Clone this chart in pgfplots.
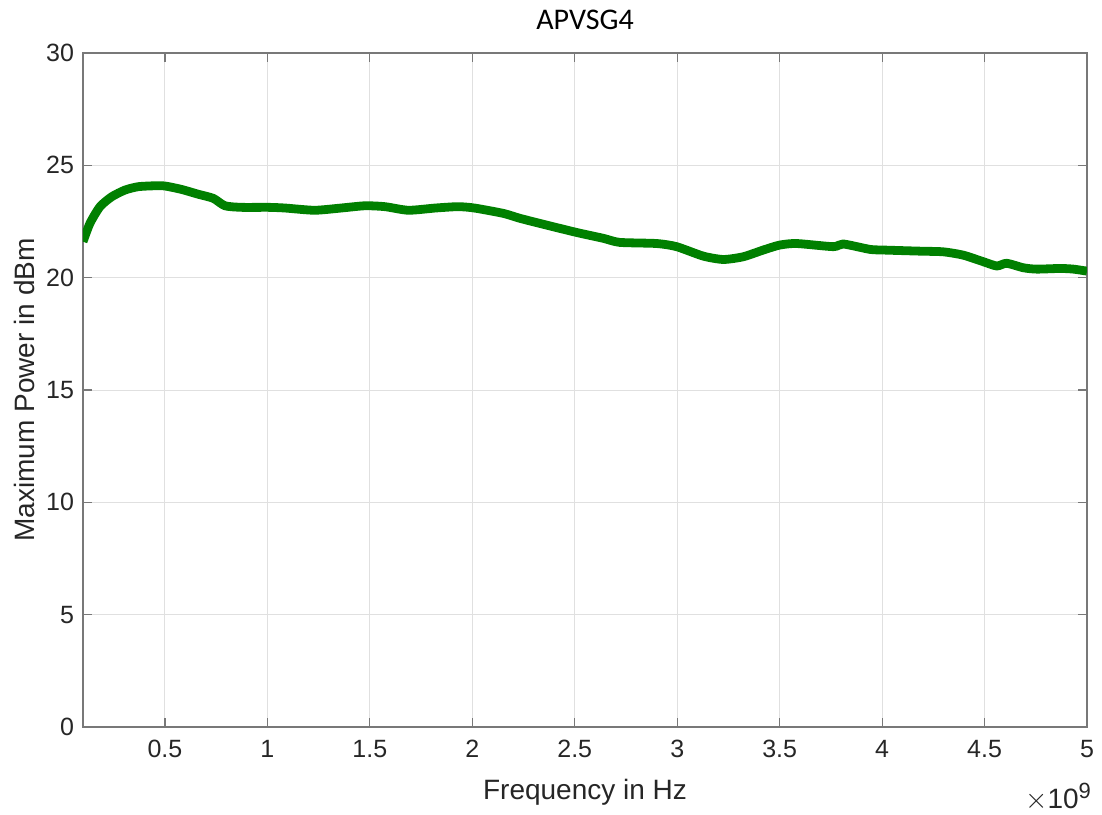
\documentclass[border=0pt]{standalone}
\usepackage{fontspec}
\setmainfont{Liberation Sans}
\newfontfamily\titlefont{Carlito}
\usepackage{pgfplots}
\pgfplotsset{compat=1.18}
\usetikzlibrary{calc}
\definecolor{axgray}{RGB}{38,38,38}
\definecolor{boxgray}{RGB}{120,120,120}
\definecolor{mgreen}{RGB}{0,128,0}
\begin{document}
\begin{tikzpicture}
\useasboundingbox (-41.5pt,-43.5pt) rectangle (509.5pt,363.5pt);
\begin{axis}[
  name=ax,
  at={(0,0)}, anchor=south west,
  scale only axis,
  width=502pt, height=337pt,
  xmin=0.1, xmax=5, ymin=0, ymax=30,
  xtick={0.5,1,1.5,2,2.5,3,3.5,4,4.5,5},
  xticklabels={0.5,1,1.5,2,2.5,3,3.5,4,4.5,5},
  ytick={0,5,10,15,20,25,30},
  /pgf/number format/assume math mode=true,
  tick label style={font=\fontsize{12.5}{14}\selectfont, text=axgray},
  grid=major,
  major grid style={draw=black!12, line width=0.5pt},
  axis line style={draw=boxgray, line width=0.6pt},
  tick style={draw=boxgray, line width=0.6pt},
  tick align=inside,
  major tick length=4.5pt,
  xticklabel style={yshift=-3pt},
  yticklabel style={xshift=-1pt},
  clip=true,
]
\addplot[mgreen, line width=4.4pt, line join=round, line cap=butt, smooth, tension=0.4] coordinates {
(0.100,21.60) (0.134,22.42) (0.183,23.16) (0.240,23.60) (0.305,23.90) (0.370,24.05)
(0.450,24.09) (0.500,24.08) (0.580,23.93) (0.660,23.72) (0.736,23.53) (0.793,23.20)
(0.875,23.13) (1.005,23.13) (1.086,23.10) (1.230,23.00) (1.360,23.10) (1.476,23.20)
(1.574,23.16) (1.688,23.00) (1.820,23.10) (1.930,23.16) (2.010,23.10) (2.152,22.86)
(2.233,22.64) (2.363,22.34) (2.510,22.01) (2.640,21.75) (2.720,21.57) (2.900,21.52)
(2.997,21.38) (3.127,20.96) (3.225,20.81) (3.322,20.93) (3.420,21.23) (3.500,21.45)
(3.583,21.52) (3.762,21.38) (3.810,21.50) (3.940,21.26) (4.006,21.23) (4.185,21.18)
(4.299,21.15) (4.397,21.00) (4.494,20.71) (4.560,20.52) (4.608,20.64) (4.690,20.44)
(4.755,20.38) (4.869,20.41) (4.934,20.38) (5.000,20.29)
};
\end{axis}
\node[font=\titlefont\fontsize{15}{17}\selectfont, text=black] at ($(ax.north)+(0,16.5pt)$) {APVSG4};
\node[font=\fontsize{14}{16}\selectfont, text=axgray] at ($(ax.south)+(0,-32.5pt)$) {Frequency in Hz};
\node[font=\fontsize{14}{16}\selectfont, text=axgray, rotate=90] at ($(ax.west)+(-29.5pt,0)$) {Maximum Power in dBm};
\node[anchor=east, font=\fontsize{14}{16}\selectfont, text=axgray] at ($(ax.south east)+(5.5pt,-35pt)$) {$\times$10\raisebox{5pt}{\fontsize{11}{12}\selectfont 9}};
\end{tikzpicture}
\end{document}
